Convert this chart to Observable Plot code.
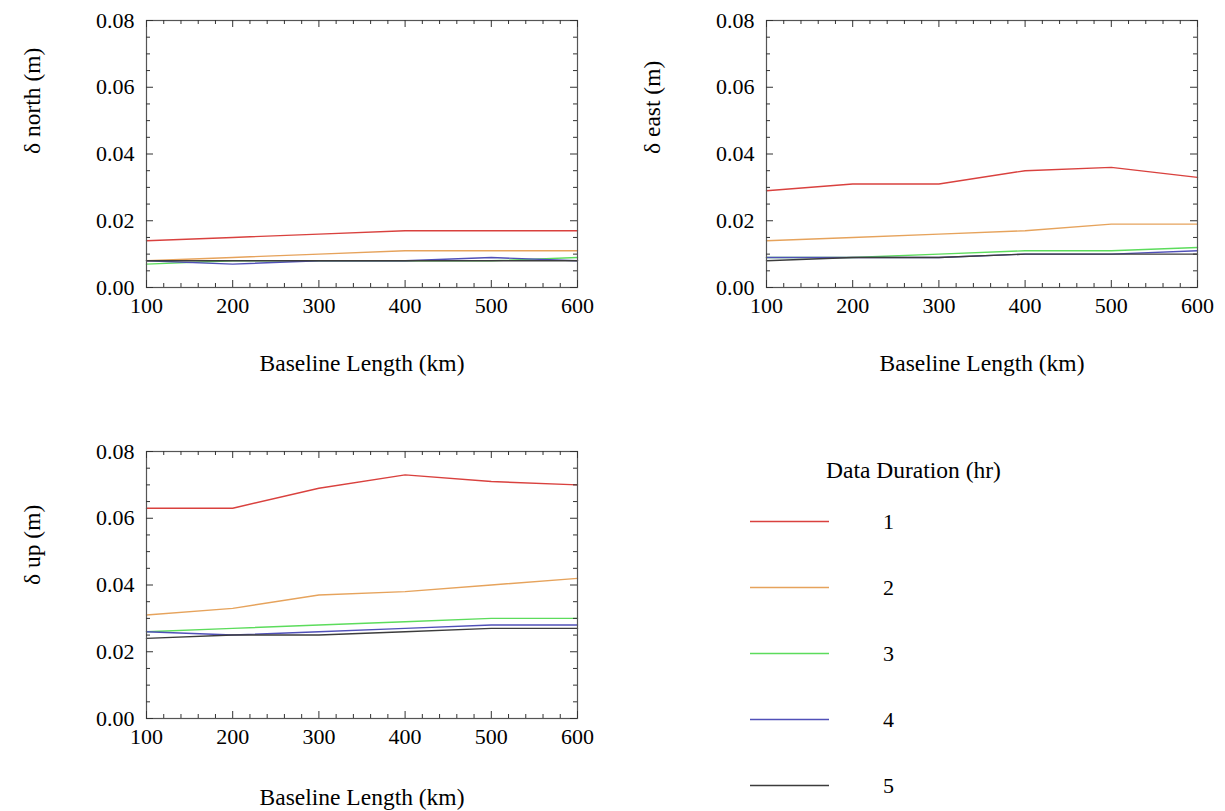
<!DOCTYPE html>
<html>
<head>
<meta charset="utf-8">
<script src="https://cdn.jsdelivr.net/npm/d3@7"></script>
<script src="https://cdn.jsdelivr.net/npm/@observablehq/plot@0.6"></script>
<style>
  body { margin: 0; background: #fff; }
  #wrap { position: relative; width: 1225px; height: 811px; font-family: "Liberation Serif", serif; }
  .cell { position: absolute; }
  svg text { font-family: "Liberation Serif", "Times New Roman", serif !important; }
</style>
</head>
<body>
<div id="wrap">
  <div class="cell" id="p1" style="left:0px;top:0px"></div>
  <div class="cell" id="p2" style="left:620px;top:0px"></div>
  <div class="cell" id="p3" style="left:0px;top:431px"></div>
  <div class="cell" id="leg" style="left:620px;top:431px"></div>
</div>
<script>
// ---- data ----
const baseline = [100, 200, 300, 400, 500, 600];
const durations = ["1", "2", "3", "4", "5"];
const seriesColors = ["#d9413e", "#e6a35c", "#5cdc5c", "#5050b8", "#3c3c3c"];
const xMajor = [100, 200, 300, 400, 500, 600];
const yMajor = [0, 0.02, 0.04, 0.06, 0.08];
const xLabel = "Baseline Length (km)";
const legendTitle = "Data Duration (hr)";

const north = [
  [0.014, 0.015, 0.016, 0.017, 0.017, 0.017],
  [0.008, 0.009, 0.010, 0.011, 0.011, 0.011],
  [0.007, 0.008, 0.008, 0.008, 0.008, 0.009],
  [0.008, 0.007, 0.008, 0.008, 0.009, 0.008],
  [0.008, 0.008, 0.008, 0.008, 0.008, 0.008]
];
const east = [
  [0.029, 0.031, 0.031, 0.035, 0.036, 0.033],
  [0.014, 0.015, 0.016, 0.017, 0.019, 0.019],
  [0.009, 0.009, 0.010, 0.011, 0.011, 0.012],
  [0.009, 0.009, 0.009, 0.010, 0.010, 0.011],
  [0.008, 0.009, 0.009, 0.010, 0.010, 0.010]
];
const up = [
  [0.063, 0.063, 0.069, 0.073, 0.071, 0.070],
  [0.031, 0.033, 0.037, 0.038, 0.040, 0.042],
  [0.026, 0.027, 0.028, 0.029, 0.030, 0.030],
  [0.026, 0.025, 0.026, 0.027, 0.028, 0.028],
  [0.024, 0.025, 0.025, 0.026, 0.027, 0.027]
];

// minor ticks
const xMinor = d3.range(100, 600.001, 20).filter(v => v % 100 !== 0);
const yMinor = d3.range(0, 0.0801, 0.005).map(v => +v.toFixed(3)).filter(v => Math.round(v * 1000) % 20 !== 0);

const FONT = '"Liberation Serif", "Times New Roman", serif';

function panel(values, ylabel, xLabelDy) {
  const W = 600, H = 380, mL = 146, mR = 23, mT = 20, mB = 93;
  const fw = W - mL - mR, fh = H - mT - mB;
  const rows = values.flatMap((s, i) => baseline.map((b, j) => ({baseline: b, value: s[j], duration: durations[i]})));
  const maj = 7, min = 4;
  return Plot.plot({
    width: W, height: H,
    marginLeft: mL, marginRight: mR, marginTop: mT, marginBottom: mB,
    style: {fontFamily: FONT, fontSize: "22px", color: "#000", background: "transparent", overflow: "visible"},
    x: {domain: [100, 600]},
    y: {domain: [0, 0.08]},
    color: {domain: durations, range: seriesColors},
    marks: [
      Plot.lineY(rows, {x: "baseline", y: "value", stroke: "duration", strokeWidth: 1.4}),
      Plot.frame({stroke: "#555", strokeWidth: 1.2}),
      Plot.tickX(xMajor, {x: d => d, insetTop: fh - maj, stroke: "#333"}),
      Plot.tickX(xMinor, {x: d => d, insetTop: fh - min, stroke: "#333"}),
      Plot.tickX(xMajor, {x: d => d, insetBottom: fh - maj, stroke: "#333"}),
      Plot.tickX(xMinor, {x: d => d, insetBottom: fh - min, stroke: "#333"}),
      Plot.tickY(yMajor, {y: d => d, insetRight: fw - maj, stroke: "#333"}),
      Plot.tickY(yMinor, {y: d => d, insetRight: fw - min, stroke: "#333"}),
      Plot.tickY(yMajor, {y: d => d, insetLeft: fw - maj, stroke: "#333"}),
      Plot.tickY(yMinor, {y: d => d, insetLeft: fw - min, stroke: "#333"}),
      Plot.axisX({ticks: xMajor, tickSize: 0, tickPadding: 10, tickFormat: "d", label: null, fontFamily: FONT, fontSize: 22, fill: "#000"}),
      Plot.axisY({ticks: yMajor, tickSize: 0, tickPadding: 12, tickFormat: ".2f", label: null, fontFamily: FONT, fontSize: 22, fill: "#000"}),
      Plot.text([xLabel], {frameAnchor: "bottom", dy: xLabelDy, fontSize: 23.5, fontFamily: FONT, fill: "#000"}),
      Plot.text([ylabel], {frameAnchor: "left", dx: -114, rotate: -90, fontSize: 23.5, fontFamily: FONT, fill: "#000"})
    ]
  });
}

document.getElementById("p1").append(panel(north, "δ north (m)", 83));
document.getElementById("p2").append(panel(east, "δ east (m)", 83));
document.getElementById("p3").append(panel(up, "δ up (m)", 86));

const legend = Plot.plot({
  width: 600, height: 380,
  marginLeft: 130, marginRight: 391, marginTop: 90, marginBottom: 26,
  style: {fontFamily: FONT, fontSize: "22px", color: "#000", background: "transparent", overflow: "visible"},
  x: {domain: [0, 1], axis: null},
  y: {domain: durations, type: "point", padding: 0, axis: null},
  color: {domain: durations, range: seriesColors},
  marks: [
    Plot.ruleY(durations, {y: d => d, x1: 0, x2: 1, stroke: d => d, strokeWidth: 1.6}),
    Plot.text(durations, {x: 1, y: d => d, text: d => d, dx: 59, fontSize: 22, fontFamily: FONT, fill: "#000"}),
    Plot.text([legendTitle], {frameAnchor: "top-left", dx: 163, dy: -60, textAnchor: "middle", fontSize: 23.5, fontFamily: FONT, fill: "#000"})
  ]
});
document.getElementById("leg").append(legend);
</script>
</body>
</html>
